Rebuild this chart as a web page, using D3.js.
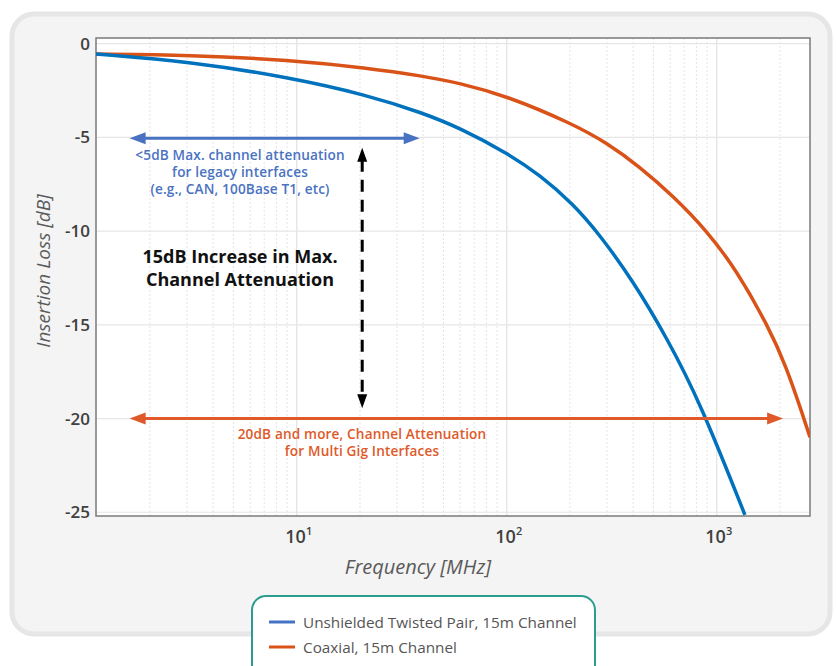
<!DOCTYPE html>
<html>
<head>
<meta charset="utf-8">
<script src="https://cdn.jsdelivr.net/npm/d3@7"></script>
<style>
  html, body { margin: 0; padding: 0; background: #ffffff; }
  svg { display: block; font-family: "Open Sans", "Noto Sans", sans-serif; }
</style>
</head>
<body>
<svg id="chart" width="836" height="666"></svg>
<script>
// ---- data ----
const freqUTP = [1.107, 3.1, 9.29, 21.6, 39.9, 59.8, 100.3, 144, 207, 278, 399, 580, 832, 1362];
const lossUTP = [-0.555, -0.955, -1.81, -2.74, -3.70, -4.50, -5.83, -7.01, -8.55, -10.21, -12.66, -15.71, -19.12, -25.14];

const freqCoax = [1.107, 3.1, 9.29, 21.6, 39.9, 59.8, 100.3, 207, 300, 431, 620, 899, 1249, 1754, 2138, 2576, 2780];
const lossCoax = [-0.555, -0.608, -0.875, -1.30, -1.73, -2.11, -2.79, -4.29, -5.30, -6.58, -8.13, -9.99, -12.13, -15.06, -17.19, -19.86, -21.0];

const seriesNames = ["Unshielded Twisted Pair, 15m Channel", "Coaxial, 15m Channel"];
const yTicks = [0, -5, -10, -15, -20, -25];
const xTickExps = [1, 2, 3];

// annotation arrows (frequency in MHz, loss in dB)
const legacyArrow = { f0: 1.6, f1: 38.5, db: -5 };
const multiGigArrow = { f0: 1.6, f1: 2070, db: -20 };
const increaseArrow = { f: 20.5, db0: -5.55, db1: -19.45 };
const legacyText = ["<5dB Max. channel attenuation", "for legacy interfaces", "(e.g., CAN, 100Base T1, etc)"];
const increaseText = ["15dB Increase in Max.", "Channel Attenuation"];
const multiGigText = ["20dB and more, Channel Attenuation", "for Multi Gig Interfaces"];

// ---- layout ----
const svg = d3.select("#chart");
const L = 96, R = 810, T = 38, B = 516;
const colUTP = "#0072BD", colCoax = "#D95319";
const colBlueAnn = "#4a72c2", colOrangeAnn = "#e0592a";

// background panel
svg.append("rect").attr("x", 12).attr("y", 14).attr("width", 818).attr("height", 620)
  .attr("rx", 22).attr("fill", "#f4f4f4").attr("stroke", "#e6e6e6").attr("stroke-width", 5);

const x = d3.scaleLog().domain([1.107, 2780]).range([L, R]);
const y = d3.scaleLinear().domain([-25.2, 0.3]).range([B, T]);

// plot area
svg.append("rect").attr("x", L).attr("y", T).attr("width", R - L).attr("height", B - T).attr("fill", "#ffffff");

// minor vertical grid
const minor = [];
for (let e = 0; e <= 3; e++) for (let m = 2; m <= 9; m++) {
  const v = m * Math.pow(10, e);
  if (v > x.domain()[0] && v < x.domain()[1]) minor.push(v);
}
svg.append("g").selectAll("line").data(minor).join("line")
  .attr("x1", d => x(d)).attr("x2", d => x(d)).attr("y1", T).attr("y2", B)
  .attr("stroke", "#e4e4e4").attr("stroke-width", 1).attr("stroke-dasharray", "2,2");
// major vertical grid
svg.append("g").selectAll("line").data(xTickExps).join("line")
  .attr("x1", d => x(Math.pow(10, d))).attr("x2", d => x(Math.pow(10, d))).attr("y1", T).attr("y2", B)
  .attr("stroke", "#e2e2e2").attr("stroke-width", 1.2);
// horizontal grid
svg.append("g").selectAll("line").data(yTicks).join("line")
  .attr("x1", L).attr("x2", R).attr("y1", d => y(d)).attr("y2", d => y(d))
  .attr("stroke", "#e6e6e6").attr("stroke-width", 1.2);

// frame
svg.append("rect").attr("x", L).attr("y", T).attr("width", R - L).attr("height", B - T)
  .attr("fill", "none").attr("stroke", "#7a7a7a").attr("stroke-width", 1.5);

// clip
svg.append("clipPath").attr("id", "clip").append("rect")
  .attr("x", L).attr("y", T).attr("width", R - L).attr("height", B - T);

const line = d3.line().x(d => x(d[0])).y(d => y(d[1])).curve(d3.curveBasis);
const g = svg.append("g").attr("clip-path", "url(#clip)");
g.append("path").datum(freqCoax.map((f, i) => [f, lossCoax[i]])).attr("d", line)
  .attr("fill", "none").attr("stroke", colCoax).attr("stroke-width", 3.5);
g.append("path").datum(freqUTP.map((f, i) => [f, lossUTP[i]])).attr("d", line)
  .attr("fill", "none").attr("stroke", colUTP).attr("stroke-width", 3.5);

// y tick labels
svg.append("g").selectAll("text").data(yTicks).join("text")
  .attr("x", 90).attr("y", d => y(d) + 6).attr("text-anchor", "end")
  .attr("font-size", 17).attr("font-weight", 600).attr("fill", "#404040")
  .text(d => d === 0 ? "0" : "-" + Math.abs(d));

// x tick labels
const xt = svg.append("g").selectAll("text").data(xTickExps).join("text")
  .attr("x", d => x(Math.pow(10, d)) + 2).attr("y", 543).attr("text-anchor", "middle")
  .attr("font-size", 18).attr("font-weight", 600).attr("fill", "#404040");
xt.append("tspan").text("10");
xt.append("tspan").attr("font-size", 11).attr("dy", -8).text(d => d);

// axis titles
svg.append("text").attr("x", 418).attr("y", 574).attr("text-anchor", "middle")
  .attr("font-size", 20).attr("font-style", "italic").attr("fill", "#5a5a5a").text("Frequency [MHz]");
svg.append("text").attr("transform", "translate(50,271) rotate(-90)").attr("text-anchor", "middle")
  .attr("font-size", 19).attr("font-style", "italic").attr("fill", "#5a5a5a").text("Insertion Loss [dB]");

// arrow helper
function arrowHead(gp, tipX, tipY, dir, len, half, color) {
  const bx = tipX - Math.cos(dir) * len, by = tipY - Math.sin(dir) * len;
  const px = -Math.sin(dir) * half, py = Math.cos(dir) * half;
  gp.append("path").attr("d", `M${tipX},${tipY}L${bx + px},${by + py}L${bx - px},${by - py}Z`).attr("fill", color);
}

// legacy double arrow (blue)
{
  const ga = svg.append("g");
  const x0 = x(legacyArrow.f0), x1 = x(legacyArrow.f1), yy = y(legacyArrow.db) + 1;
  ga.append("line").attr("x1", x0 + 10).attr("x2", x1 - 10).attr("y1", yy).attr("y2", yy)
    .attr("stroke", colBlueAnn).attr("stroke-width", 3);
  arrowHead(ga, x0, yy, Math.PI, 16, 6, colBlueAnn);
  arrowHead(ga, x1, yy, 0, 16, 6, colBlueAnn);
}
// multi gig double arrow (orange)
{
  const ga = svg.append("g");
  const x0 = x(multiGigArrow.f0), x1 = x(multiGigArrow.f1), yy = y(multiGigArrow.db);
  ga.append("line").attr("x1", x0 + 10).attr("x2", x1 - 10).attr("y1", yy).attr("y2", yy)
    .attr("stroke", colOrangeAnn).attr("stroke-width", 3);
  arrowHead(ga, x0, yy, Math.PI, 16, 6, colOrangeAnn);
  arrowHead(ga, x1, yy, 0, 16, 6, colOrangeAnn);
}
// dashed vertical arrow (black)
{
  const ga = svg.append("g");
  const xx = x(increaseArrow.f), y0 = y(increaseArrow.db0), y1 = y(increaseArrow.db1);
  ga.append("line").attr("x1", xx).attr("x2", xx).attr("y1", y0 + 12).attr("y2", y1 - 12)
    .attr("stroke", "#000").attr("stroke-width", 3).attr("stroke-dasharray", "12,8");
  arrowHead(ga, xx, y0, -Math.PI / 2, 14, 5, "#000");
  arrowHead(ga, xx, y1, Math.PI / 2, 14, 5, "#000");
}

// annotation texts
svg.append("g").selectAll("text").data(legacyText).join("text")
  .attr("x", 240).attr("y", (d, i) => 159.5 + i * 17.2).attr("text-anchor", "middle")
  .attr("font-size", 13.6).attr("letter-spacing", 0.15).attr("font-weight", 600)
  .attr("fill", colBlueAnn).text(d => d);
svg.append("g").selectAll("text").data(increaseText).join("text")
  .attr("x", 240).attr("y", (d, i) => 263 + i * 23).attr("text-anchor", "middle")
  .attr("font-size", 18).attr("font-weight", 700).attr("fill", "#111").text(d => d);
svg.append("g").selectAll("text").data(multiGigText).join("text")
  .attr("x", 362).attr("y", (d, i) => 439 + i * 17.2).attr("text-anchor", "middle")
  .attr("font-size", 13.6).attr("letter-spacing", 0.15).attr("font-weight", 600)
  .attr("fill", colOrangeAnn).text(d => d);

// legend
const lg = svg.append("g");
lg.append("rect").attr("x", 252).attr("y", 596).attr("width", 343).attr("height", 90)
  .attr("rx", 14).attr("fill", "#ffffff").attr("stroke", "#2a9d8f").attr("stroke-width", 2);
const legendCols = ["#4472c4", colCoax];
seriesNames.forEach((name, i) => {
  const yy = 622 + i * 25;
  lg.append("line").attr("x1", 269).attr("x2", 295).attr("y1", yy).attr("y2", yy)
    .attr("stroke", legendCols[i]).attr("stroke-width", 3);
  lg.append("text").attr("x", 303).attr("y", yy + 5.5).attr("font-size", 15.3)
    .attr("fill", "#555").text(name);
});
</script>
</body>
</html>
